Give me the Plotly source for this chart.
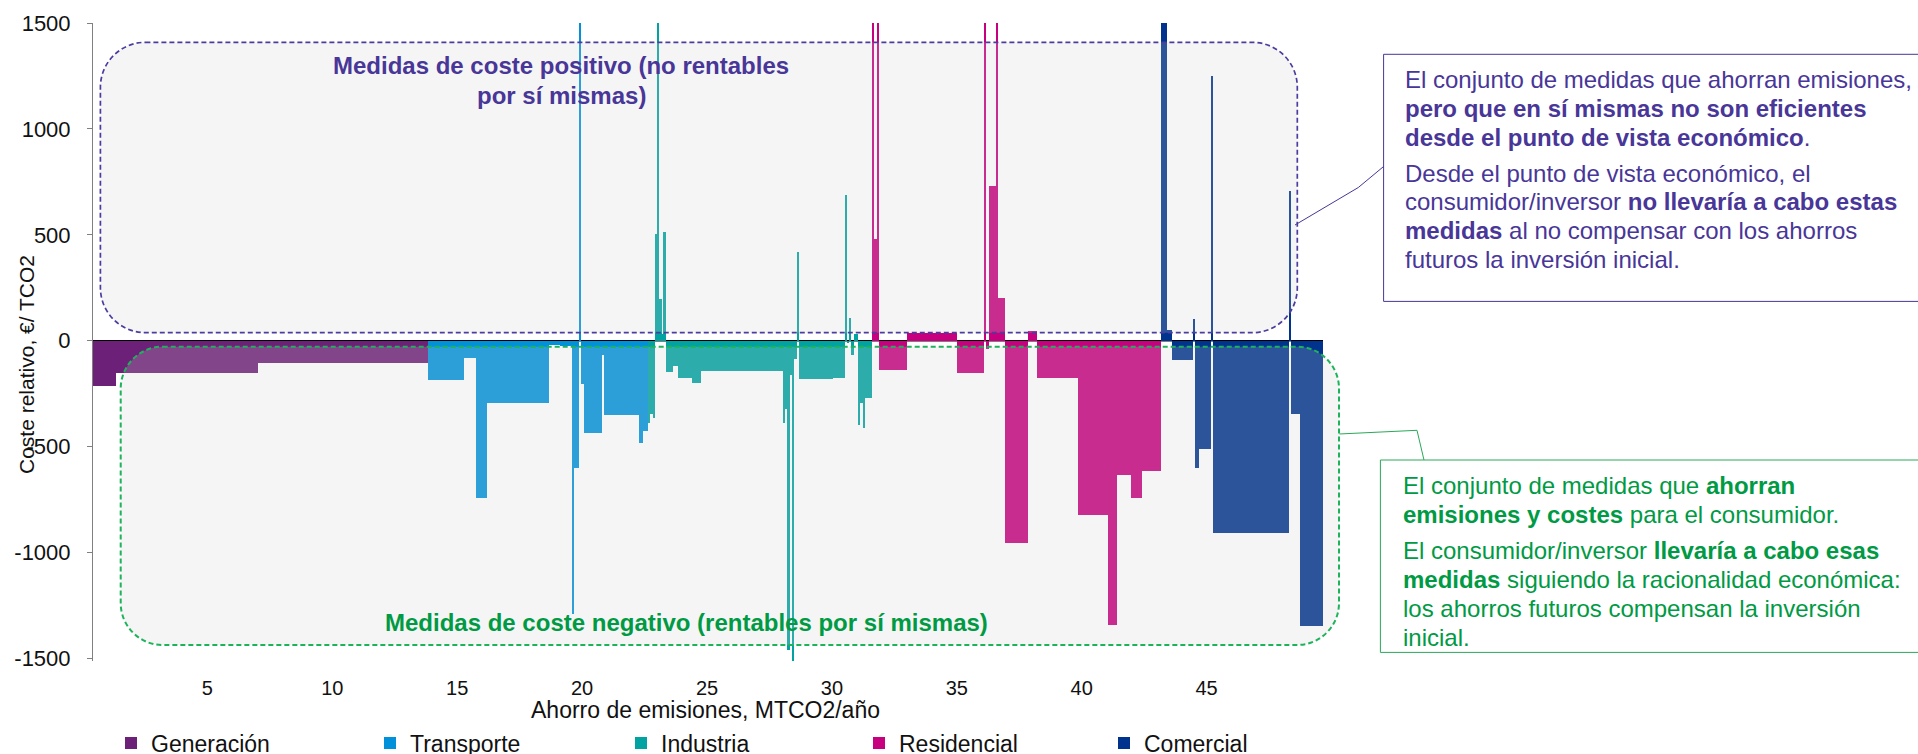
import numpy as np
import plotly.graph_objects as go

# ---------------------------------------------------------------------------
# Data: each measure has an abatement (width, MtCO2/año) and a relative cost
# (height, €/tCO2). Measures are listed in curve order within each sector.
# Costs above the axis limit are drawn clipped at the top of the chart.
# ---------------------------------------------------------------------------
sectors = ["Generación", "Transporte", "Industria", "Residencial", "Comercial"]
sector_colors = ["#6D2077", "#0091DA", "#00A3A1", "#C6007E", "#00338D"]

gen_abatement = [0.94, 5.67, 6.81]
gen_cost = [-214, -154, -104]

tra_abatement = [1.44, 0.47, 0.45, 2.48, 0.43, 0.51, 0.06, 0.20, 0.08, 0.11,
                 0.72, 0.09, 1.39, 0.17, 0.18]
tra_cost = [-184, -83, -741, -294, -22, -27, -1291, -600, 2600, -206,
            -434, -65, -352, -481, -426]

ind_abatement = [0.09, 0.11, 0.10, 0.08, 0.07, 0.11, 0.06, 0.10, 0.30, 0.18,
                 0.56, 0.36, 1.44, 1.87, 0.08, 0.11, 0.07, 0.08, 0.09, 0.11,
                 0.08, 1.39, 0.47, 0.07, 0.08, 0.10, 0.11, 0.17, 0.07, 0.13,
                 0.08, 0.28]
ind_cost = [-387, -348, -363, 506, 2600, 198, 30, 514, -148, -118,
            -175, -198, -143, -141, -390, -321, -1460, -164, -1510, -85,
            419, -180, -174, 689, -10, 105, -65, 30, -400, -296,
            -414, -271]

res_abatement = [0.08, 0.10, 0.09, 1.11, 2.00, 1.09, 0.09, 0.11, 0.29, 0.08,
                 0.27, 0.44, 0.47, 0.37, 1.64, 1.20, 0.37, 0.55, 0.45, 0.74]
res_cost = [2600, 478, 2600, -139, 38, -151, 2600, -38, 729, 2600,
            203, -957, -954, 45, -178, -822, -1340, -634, -743, -616]

com_abatement = [0.24, 0.20, 0.84, 0.09, 0.17, 0.47, 0.08, 3.03, 0.09, 0.37, 0.92]
com_cost = [2600, 53, -92, 103, -599, -513, 1251, -910, 709, -344, -1349]

abatements = [gen_abatement, tra_abatement, ind_abatement, res_abatement, com_abatement]
costs = [gen_cost, tra_cost, ind_cost, res_cost, com_cost]

x_tick_vals = [5, 10, 15, 20, 25, 30, 35, 40, 45]
x_tick_text = ["5", "10", "15", "20", "25", "30", "35", "40", "45"]
y_tick_vals = [1500, 1000, 500, 0, -500, -1000, -1500]
y_tick_text = ["1500", "1000", "500", "0", "-500", "-1000", "-1500"]

AXIS_START = 0.42          # left end of the horizontal axis
Y_RANGE = [-1512, 1500]

# ---------------------------------------------------------------------------
# Page geometry (pixels) and helpers to place layout items in paper space
# ---------------------------------------------------------------------------
W, H = 1918, 754
ML, MR, MT, MB = 93, 595, 23, 93
PW, PH = W - ML - MR, H - MT - MB


def px(x):
    return (x - ML) / PW


def py(y):
    return (H - MB - y) / PH


def rounded_box(left, top, right, bottom, rad):
    k = 0.5523 * rad
    pts = [
        ("M", [(left + rad, top)]),
        ("L", [(right - rad, top)]),
        ("C", [(right - rad + k, top), (right, top + rad - k), (right, top + rad)]),
        ("L", [(right, bottom - rad)]),
        ("C", [(right, bottom - rad + k), (right - rad + k, bottom), (right - rad, bottom)]),
        ("L", [(left + rad, bottom)]),
        ("C", [(left + rad - k, bottom), (left, bottom - rad + k), (left, bottom - rad)]),
        ("L", [(left, top + rad)]),
        ("C", [(left, top + rad - k), (left + rad - k, top), (left + rad, top)]),
    ]
    out = []
    for cmd, p in pts:
        out.append(cmd + " ".join(f"{px(a):.5f},{py(b):.5f}" for a, b in p))
    return " ".join(out) + " Z"


def polyline(points):
    return "M" + " L".join(f"{px(a):.5f},{py(b):.5f}" for a, b in points)


FONT = "Liberation Sans, Arial, Helvetica, sans-serif"
PURPLE = "#483698"
GREEN = "#009A44"
DASH_GREEN = "#1DB35A"

# one single-entry legend per sector, laid out along the bottom edge
legend_left_px = [111, 370, 621, 859, 1104]
legend_ids = ["legend"] + [f"legend{i}" for i in range(2, len(sectors) + 1)]

# ---------------------------------------------------------------------------
# Bars: positions come from the cumulative abatement along the curve
# ---------------------------------------------------------------------------
all_widths = np.concatenate([np.asarray(a, dtype=float) for a in abatements])
lefts_all = AXIS_START + np.concatenate([[0.0], np.cumsum(all_widths)[:-1]])
x_end = AXIS_START + all_widths.sum()

fig = go.Figure()
pos = 0
for name, color, wid, cst, leg in zip(sectors, sector_colors, abatements, costs, legend_ids):
    n = len(wid)
    w = np.asarray(wid, dtype=float)
    centers = lefts_all[pos:pos + n] + w / 2
    pos += n
    fig.add_trace(go.Bar(
        x=centers, y=cst, width=w, name=name, legend=leg,
        marker=dict(color=color, line=dict(width=0)),
        hoverinfo="skip",
    ))

shapes = [
    # zero line
    dict(type="line", xref="x", yref="y", x0=AXIS_START, x1=x_end, y0=0, y1=0,
         line=dict(color="#000000", width=1.3), layer="below"),
    # positive-cost region
    dict(type="path", xref="paper", yref="paper",
         path=rounded_box(100.4, 42.3, 1297.3, 332.7, 45),
         fillcolor="rgba(208,208,208,0.212)",
         line=dict(color="#4B3D9E", width=1.7, dash="5px,3px"), layer="above"),
    # negative-cost region
    dict(type="path", xref="paper", yref="paper",
         path=rounded_box(120.7, 346.7, 1339.0, 645.0, 42),
         fillcolor="rgba(208,208,208,0.212)",
         line=dict(color=DASH_GREEN, width=2, dash="5px,3px"), layer="above"),
    # explanatory text frames
    dict(type="rect", xref="paper", yref="paper",
         x0=px(1383.6), x1=px(1930), y0=py(301.4), y1=py(54.3),
         line=dict(color=PURPLE, width=1), layer="above"),
    dict(type="rect", xref="paper", yref="paper",
         x0=px(1380.4), x1=px(1930), y0=py(652.4), y1=py(460.0),
         line=dict(color="#2AA85A", width=1), layer="above"),
    # connectors
    dict(type="path", xref="paper", yref="paper",
         path=polyline([(1295, 225), (1358.3, 187.5), (1383.6, 166.5)]),
         line=dict(color=PURPLE, width=1), layer="above"),
    dict(type="path", xref="paper", yref="paper",
         path=polyline([(1339.4, 434), (1417, 430.3), (1424, 460)]),
         line=dict(color="#2AA85A", width=1), layer="above"),
]

annotations = []


def note(text, x, y, size, color, xanchor="left", angle=0):
    annotations.append(dict(
        text=text, x=px(x), y=py(y), xref="paper", yref="paper",
        xanchor=xanchor, yanchor="middle", showarrow=False, textangle=angle,
        font=dict(family=FONT, size=size, color=color),
    ))


# region titles
note("<b>Medidas de coste positivo (no rentables</b>", 561.4, 66, 24, PURPLE, "center")
note("<b>por sí mismas)</b>", 561.0, 95, 24, PURPLE, "center")
note("<b>Medidas de coste negativo (rentables por sí mismas)</b>", 686, 622, 24, GREEN, "center")

# explanatory text, positive-cost measures
purple_lines = [
    ("El conjunto de medidas que ahorran emisiones,", 79.3),
    ("<b>pero que en sí mismas no son eficientes</b>", 108.2),
    ("<b>desde el punto de vista económico</b>.", 137.5),
    ("Desde el punto de vista económico, el", 173.0),
    ("consumidor/inversor <b>no llevaría a cabo estas</b>", 202.0),
    ("<b>medidas</b> al no compensar con los ahorros", 230.8),
    ("futuros la inversión inicial.", 259.6),
]
for txt, yy in purple_lines:
    note(txt, 1403.3, yy, 24, PURPLE)

# explanatory text, negative-cost measures
green_lines = [
    ("El conjunto de medidas que <b>ahorran</b>", 485.6),
    ("<b>emisiones y costes</b> para el consumidor.", 514.4),
    ("El consumidor/inversor <b>llevaría a cabo esas</b>", 550.5),
    ("<b>medidas</b> siguiendo la racionalidad económica:", 579.3),
    ("los ahorros futuros compensan la inversión", 608.2),
    ("inicial.", 637.0),
]
for txt, yy in green_lines:
    note(txt, 1400.5, yy, 24, GREEN)

# axis titles
note("Coste relativo, €/ TCO2", 26, 365, 21, "#111111", "center", -90)
note("Ahorro de emisiones, MTCO2/año", 705, 710, 23, "#111111", "center")

legends = {}
for leg, left in zip(legend_ids, legend_left_px):
    legends[leg] = dict(
        orientation="h", x=px(left), y=py(743), xanchor="left", yanchor="middle",
        font=dict(family=FONT, size=23, color="#111111"),
        bgcolor="rgba(0,0,0,0)", itemclick=False, itemdoubleclick=False,
    )

fig.update_layout(
    width=W, height=H,
    margin=dict(l=ML, r=MR, t=MT, b=MB, autoexpand=False),
    paper_bgcolor="#FFFFFF", plot_bgcolor="#FFFFFF",
    barmode="overlay", bargap=0,
    font=dict(family=FONT, color="#111111"),
    shapes=shapes, annotations=annotations,
    showlegend=True,
    xaxis=dict(
        range=[AXIS_START, x_end], showgrid=False, zeroline=False, showline=False,
        tickmode="array", tickvals=x_tick_vals, ticktext=x_tick_text,
        ticks="", tickfont=dict(family=FONT, size=20, color="#111111"),
        ticklabelstandoff=13,
    ),
    yaxis=dict(
        range=Y_RANGE, showgrid=False, zeroline=False,
        showline=True, linecolor="#808080", linewidth=1,
        ticks="outside", ticklen=5, tickcolor="#808080",
        tickmode="array", tickvals=y_tick_vals, ticktext=y_tick_text,
        tickfont=dict(family=FONT, size=22, color="#111111"),
        ticklabelstandoff=12,
    ),
    **legends,
)

fig.write_html("out.html")
